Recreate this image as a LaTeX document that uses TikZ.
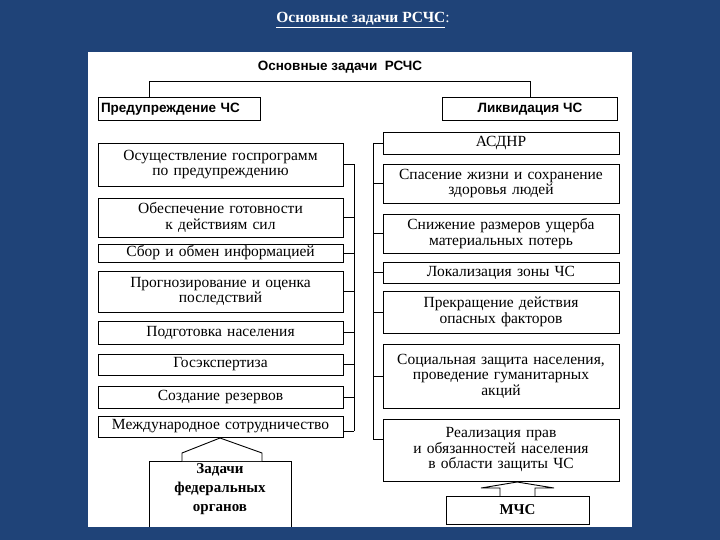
\documentclass[tikz,border=0pt]{standalone}
\usepackage{fontspec}
\setmainfont{Liberation Serif}
\newfontfamily\hsans{Liberation Sans}
\begin{document}
\begin{tikzpicture}[x=1pt,y=-1pt,
  bx/.style={draw=black,line width=0.9pt,inner sep=0pt,align=center,font=\fontsize{15.5}{15.5}\selectfont,fill=white},
  ln/.style={draw=black,line width=0.9pt}]
\newcommand\bx[6]{\node[bx,minimum width={#4-#2},minimum height={#5-#3},text width={#4-#2-2}] (#1) at ({(#2+#4)/2},{(#3+#5)/2}) {#6};}
\fill[fill={rgb,255:red,31;green,67;blue,120}] (0,0) rectangle (720,540);
\useasboundingbox (0,0) rectangle (720,540);
\fill[white] (88,52) rectangle (632,527);
\node[text=white,font=\bfseries\fontsize{15.5}{17}\selectfont] (ttl) at (363,20) {\underline{Основные задачи РСЧС}\textmd{:}};
\node[font=\hsans\bfseries\fontsize{13.5}{15}\selectfont] (hdr) at (340,67) {Основные задачи\ \ РСЧС};
\node[bx,font=\hsans\bfseries\fontsize{13.5}{15}\selectfont,minimum width=162,minimum height=23,text width=156,align=left] (pr) at (179,109) {Предупреждение ЧС};
\node[bx,font=\hsans\bfseries\fontsize{13.5}{15}\selectfont,minimum width=175,minimum height=23] (lq) at (530,109) {Ликвидация ЧС};
\draw[ln] (149,97.5) |- (530,81) -- (530,97.5);
% left
\bx{l1}{98}{143}{343}{186}{Осуществление госпрограмм\\ по предупреждению}
\bx{l2}{98}{198}{343}{237}{Обеспечение готовности\\ к действиям сил}
\bx{l3}{98}{244}{343}{262}{Сбор и обмен информацией}
\bx{l4}{98}{271}{343}{312}{Прогнозирование и оценка\\ последствий}
\bx{l5}{98}{321}{343}{344}{Подготовка населения}
\bx{l6}{98}{354}{343}{375}{Госэкспертиза}
\bx{l7}{98}{386}{343}{408}{Создание резервов}
\bx{l8}{98}{416}{343}{437}{Международное сотрудничество}
\coordinate (lb1) at (354,164.5);
\coordinate (lb8) at (354,431);
\draw[ln] (lb1) -- (lb8);
\foreach \n in {l1,l2,l3,l4,l5,l6,l7} {\draw[ln] (\n.east) -- (\n.east -| lb1);}
\draw[ln] (l8.east |- lb8) -- (lb8);
% right
\bx{r1}{383}{132}{619}{154}{АСДНР}
\bx{r2}{383}{164}{619}{203}{Спасение жизни и сохранение\\ здоровья людей}
\bx{r3}{383}{214}{619}{253}{Снижение размеров ущерба\\ материальных потерь}
\bx{r4}{383}{262}{619}{283}{Локализация зоны ЧС}
\bx{r5}{383}{291}{619}{333}{Прекращение действия\\ опасных факторов}
\bx{r6}{383}{344}{619}{408}{Социальная защита населения,\\ проведение гуманитарных\\ акций}
\bx{r7}{383}{419}{619}{481}{Реализация прав\\ и обязанностей населения\\ в области защиты ЧС}
\coordinate (rb1) at (373,143);
\coordinate (rb7) at (373,439);
\draw[ln] (rb1) -- (rb7);
\foreach \n in {r1,r2,r3,r4,r5,r6} {\draw[ln] (\n.west) -- (\n.west -| rb1);}
\draw[ln] (rb7) -- (r7.west |- rb7);
% bottom boxes
\draw[ln] (149,527) -- (149,461) -- (291,461) -- (291,527);
\node[font=\bfseries\fontsize{15}{19}\selectfont,align=center] (fed) at (220,489) {Задачи\\ федеральных\\ органов};
\draw[ln,fill=white] (182,461) -- (182,453) -- (220,438) -- (262,453) -- (262,461);
\node[bx,font=\bfseries\fontsize{15}{15}\selectfont,minimum width=143,minimum height=28] (mcs) at (517.5,510) {МЧС};
\draw[ln] (500,496) -- (500,488) -- (481,488) -- (517,482) -- (554,488) -- (535,488) -- (535,496);
\end{tikzpicture}
\end{document}
